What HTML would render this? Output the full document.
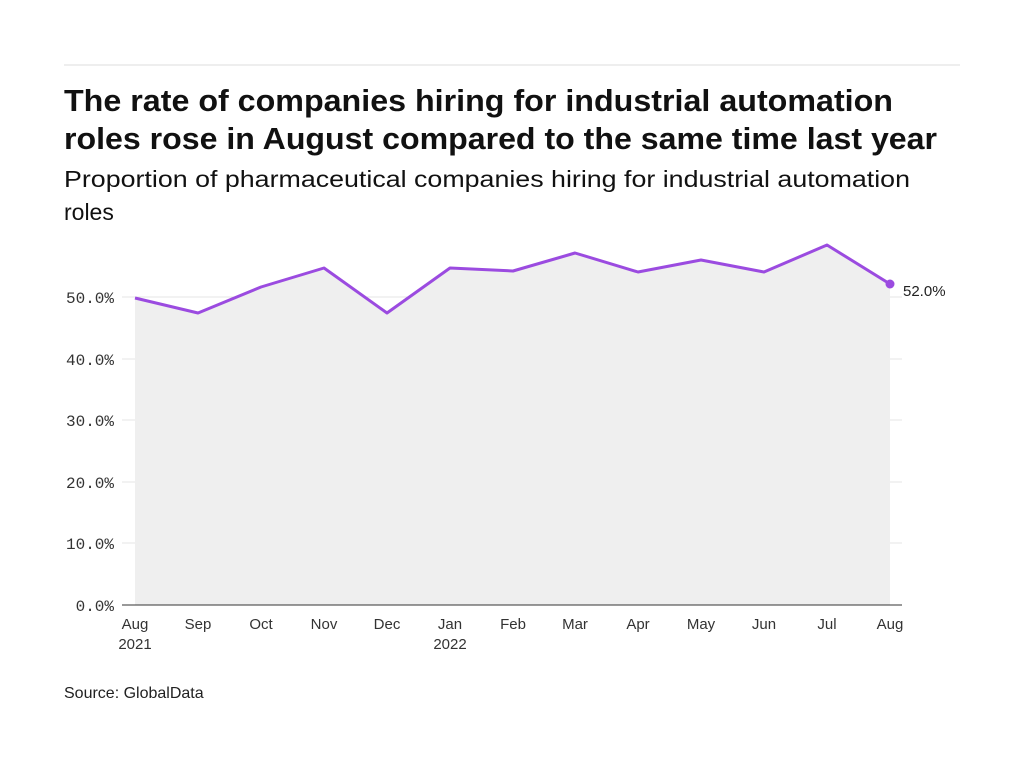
<!DOCTYPE html>
<html><head><style>
body{margin:0;background:#fff;width:1024px;height:768px;overflow:hidden}
.s{font-family:"Liberation Sans",sans-serif}
.m{font-family:"Liberation Mono",monospace}
</style></head><body>
<svg width="1024" height="768" xmlns="http://www.w3.org/2000/svg">
<line x1="64" y1="65" x2="960" y2="65" stroke="#ddd" stroke-width="1"/>
<text class="s" x="64" y="111" font-size="31" font-weight="bold" fill="#111" textLength="829" lengthAdjust="spacingAndGlyphs">The rate of companies hiring for industrial automation</text>
<text class="s" x="64" y="149" font-size="31" font-weight="bold" fill="#111" textLength="873" lengthAdjust="spacingAndGlyphs">roles rose in August compared to the same time last year</text>
<text class="s" x="64" y="187" font-size="23" fill="#111" textLength="846" lengthAdjust="spacingAndGlyphs">Proportion of pharmaceutical companies hiring for industrial automation</text>
<text class="s" x="64" y="220" font-size="23" fill="#111">roles</text>
<g stroke="#e4e4e4" stroke-width="1">
<line x1="122" y1="297" x2="902" y2="297"/>
<line x1="122" y1="359" x2="902" y2="359"/>
<line x1="122" y1="420" x2="902" y2="420"/>
<line x1="122" y1="482" x2="902" y2="482"/>
<line x1="122" y1="543" x2="902" y2="543"/>
</g>
<polygon fill="#efefef" points="135,605 135,298 198,313 261,287 324,268 387,313 450,268 513,271 575,253 638,272 701,260 764,272 827,245 890,284 890,605"/>
<line x1="122" y1="605" x2="902" y2="605" stroke="#333" stroke-width="1"/>
<polyline fill="none" stroke="#9b4be0" stroke-width="3" stroke-linejoin="round" points="135,298 198,313 261,287 324,268 387,313 450,268 513,271 575,253 638,272 701,260 764,272 827,245 890,284"/>
<circle cx="890" cy="284" r="4.5" fill="#9b4be0"/>
<text class="s" x="903" y="296" font-size="15" fill="#222">52.0%</text>
<g font-size="16" fill="#333" text-anchor="end">
<text class="m" x="114" y="303">50.0%</text>
<text class="m" x="114" y="365">40.0%</text>
<text class="m" x="114" y="426">30.0%</text>
<text class="m" x="114" y="488">20.0%</text>
<text class="m" x="114" y="549">10.0%</text>
<text class="m" x="114" y="611">0.0%</text>
</g>
<g font-size="15" fill="#333" text-anchor="middle" class="s">
<text x="135" y="629">Aug</text><text x="135" y="649">2021</text>
<text x="198" y="629">Sep</text>
<text x="261" y="629">Oct</text>
<text x="324" y="629">Nov</text>
<text x="387" y="629">Dec</text>
<text x="450" y="629">Jan</text><text x="450" y="649">2022</text>
<text x="513" y="629">Feb</text>
<text x="575" y="629">Mar</text>
<text x="638" y="629">Apr</text>
<text x="701" y="629">May</text>
<text x="764" y="629">Jun</text>
<text x="827" y="629">Jul</text>
<text x="890" y="629">Aug</text>
</g>
<text class="s" x="64" y="698" font-size="16" fill="#222">Source: GlobalData</text>
</svg>
</body></html>
